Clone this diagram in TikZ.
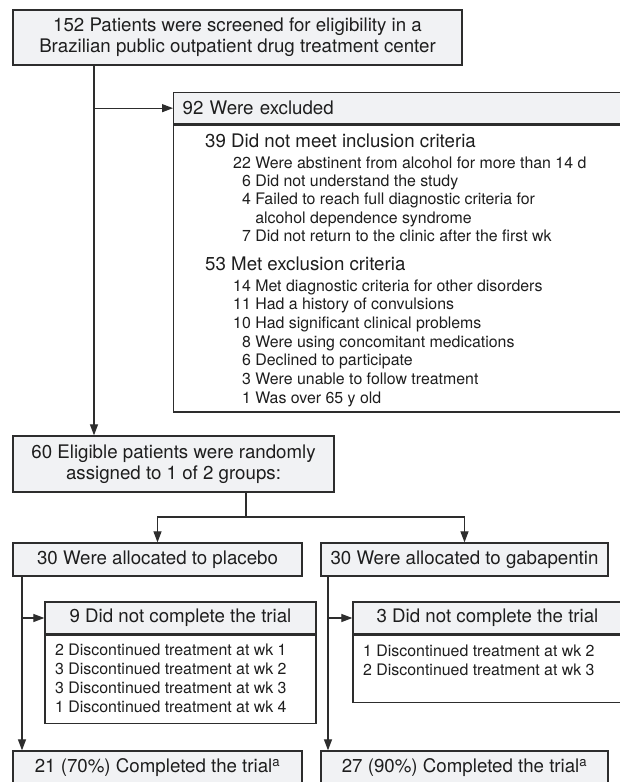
\documentclass[tikz,border=0pt]{standalone}
\usepackage{fontspec}
\setmainfont{TeX Gyre Heros}
\usetikzlibrary{arrows.meta,positioning}
\definecolor{boxfill}{RGB}{241,242,244}
\definecolor{linegray}{RGB}{45,45,45}
\definecolor{inkc}{RGB}{30,30,30}
\newcommand{\bigtxt}{\fontsize{18.7}{21}\selectfont}
\newcommand{\smalltxt}{\fontsize{15.9}{19}\selectfont}

\begin{document}
\begin{tikzpicture}[x=1pt,y=-1pt,>={Triangle[length=11pt,width=8pt]},
	every node/.style={text=inkc},
	box/.style={draw=linegray,fill=boxfill,line width=1.3pt,inner sep=0pt,font=\bigtxt,align=center},
	blank/.style={draw=linegray,fill=white,line width=1.3pt,inner sep=0pt},
	item/.style={anchor=base west,inner sep=0pt,font=\smalltxt},
	group/.style={anchor=base west,inner sep=0pt,font=\bigtxt},
	flow/.style={draw=linegray,line width=1.2pt}]
	\useasboundingbox (0,0) rectangle (620,782);
	\clip (0,0) rectangle (620,782);
	\fill[white] (0,0) rectangle (620,782);

	\node[box,minimum width=449pt,minimum height=55pt] (screen) at (237.5,37.5) {152 Patients were screened for eligibility in a\\Brazilian public outpatient drug treatment center};

	% excluded
	\node[box,anchor=north west,text width=434pt,inner xsep=9pt,align=left,minimum height=31pt] (excl) at (173,92) {92 Were excluded};
	\node[blank,minimum width=452pt,minimum height=287pt,below=0pt of excl] (exclbody) {};

	\node[group] (incl) at (205,147) {39 Did not meet inclusion criteria};
	\node[item] (incl1) at (233,168) {22 Were abstinent from alcohol for more than 14 d};
	\node[item] (incl2) at (233,186.3) {\hphantom{0}6 Did not understand the study};
	\node[item] (incl3) at (233,204.6) {\hphantom{0}4 Failed to reach full diagnostic criteria for};
	\node[item] (incl3b) at (233,223) {\hphantom{00} alcohol dependence syndrome};
	\node[item] (incl4) at (233,241.2) {\hphantom{0}7 Did not return to the clinic after the first wk};

	\node[group] (exc) at (205,270) {53 Met exclusion criteria};
	\node[item] (exc1) at (233,291) {14 Met diagnostic criteria for other disorders};
	\node[item] (exc2) at (233,309.7) {11 Had a history of convulsions};
	\node[item] (exc3) at (233,328.4) {10 Had significant clinical problems};
	\node[item] (exc4) at (233,347.1) {\hphantom{0}8 Were using concomitant medications};
	\node[item] (exc5) at (233,365.8) {\hphantom{0}6 Declined to participate};
	\node[item] (exc6) at (233,384.5) {\hphantom{0}3 Were unable to follow treatment};
	\node[item] (exc7) at (233,403.2) {\hphantom{0}1 Was over 65 y old};

	% randomisation
	\node[box,minimum width=321pt,minimum height=56pt] (elig) at (173.5,464) {60 Eligible patients were randomly\\assigned to 1 of 2 groups:};

	\node[box,minimum width=289pt,minimum height=33pt] (plac) at (157.5,559.5) {30 Were allocated to placebo};
	\node[box,minimum width=287pt,minimum height=33pt] (gaba) at (464.5,559.5) {30 Were allocated to gabapentin};

	% drop outs
	\node[box,minimum width=271pt,minimum height=32pt] (dropP) at (180.5,618) {9 Did not complete the trial};
	\node[blank,minimum width=271pt,minimum height=88pt,below=0pt of dropP] (dropPbody) {};
	\node[item] (dropP1) at (55,655) {2 Discontinued treatment at wk 1};
	\node[item] (dropP2) at (55,674.5) {3 Discontinued treatment at wk 2};
	\node[item] (dropP3) at (55,693.5) {3 Discontinued treatment at wk 3};
	\node[item] (dropP4) at (55,712.3) {1 Discontinued treatment at wk 4};

	\node[box,minimum width=269pt,minimum height=32pt] (dropG) at (487.5,618) {3 Did not complete the trial};
	\node[blank,minimum width=269pt,minimum height=67pt,below=0pt of dropG] (dropGbody) {};
	\node[item] (dropG1) at (363,656) {1 Discontinued treatment at wk 2};
	\node[item] (dropG2) at (363,675) {2 Discontinued treatment at wk 3};

	\node[box,minimum width=289pt,minimum height=33pt] (compP) at (157.5,767.5) {21 (70\%) Completed the trial\textsuperscript{a}};
	\node[box,minimum width=287pt,minimum height=33pt] (compG) at (464.5,767.5) {27 (90\%) Completed the trial\textsuperscript{a}};

	% connectors
	\coordinate (trunk) at (94,0);
	\coordinate (split) at (246,517);
	\coordinate (plline) at (22,0);
	\coordinate (gbline) at (328,0);

	\draw[flow,->] (screen.south -| trunk) -- (elig.north -| trunk);
	\draw[flow,->] (excl.west -| trunk) -- (excl.west);

	\draw[flow] (elig.south -| split) -- (split);
	\draw[flow,->] (split) -| (plac.north);
	\draw[flow,->] (split) -| (gaba.north);

	\draw[flow,->] (plac.south -| plline) -- (compP.north -| plline);
	\draw[flow,->] (dropP.west -| plline) -- (dropP.west);
	\draw[flow,->] (gaba.south -| gbline) -- (compG.north -| gbline);
	\draw[flow,->] (dropG.west -| gbline) -- (dropG.west);
\end{tikzpicture}
\end{document}
